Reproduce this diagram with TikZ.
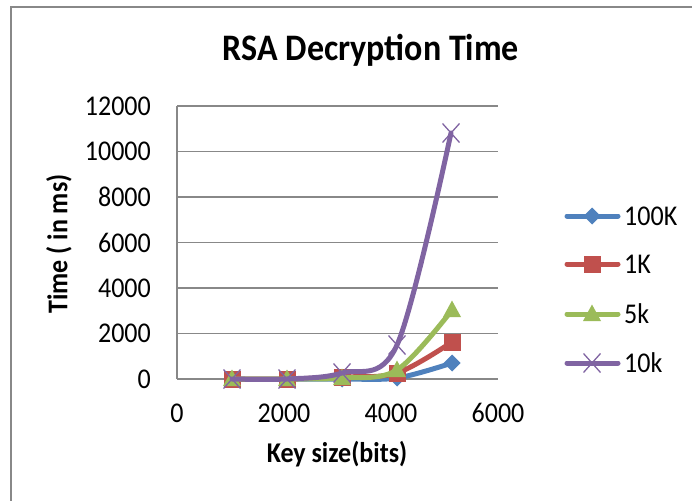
\documentclass[tikz,border=0pt]{standalone}
\usepackage{fontspec}
\setmainfont{Carlito}
\definecolor{sblue}{HTML}{4F81BD}
\definecolor{sred}{HTML}{C0504D}
\definecolor{sgreen}{HTML}{9BBB59}
\definecolor{spurple}{HTML}{8064A2}
\definecolor{gridgray}{HTML}{888888}
\newcommand\stretchtxt[1]{\scalebox{1}[1.1]{#1}}
\newcommand\mkdia[2]{\fill[#2] (#1) +(-8.5,0) -- +(0,-8.5) -- +(8.5,0) -- +(0,8.5) -- cycle;}
\newcommand\mksq[2]{\fill[#2] (#1) +(-8.5,-8.5) rectangle +(8.5,8.5);}
\newcommand\mktri[2]{\fill[#2] (#1) +(0,-9.5) -- +(9,7) -- +(-9,7) -- cycle;}
\newcommand\mkx[2]{\draw[#2,line width=1.3pt] (#1) +(-8.5,-9.5) -- +(8.5,9.5) +(-8.5,9.5) -- +(8.5,-9.5);}
\begin{document}
\begin{tikzpicture}[x=1pt,y=-1pt,
  tick/.style={font=\fontsize{26}{28}\selectfont, inner sep=0pt},
  axtitle/.style={font=\bfseries\fontsize{26}{28}\selectfont, inner sep=0pt},
  grid/.style={draw=gridgray, line width=1.6pt},
  series/.style={line width=5pt, line cap=round, line join=round, smooth, tension=0.55}]
\useasboundingbox (0,0) rectangle (692,500);
% frame
\draw[gridgray, line width=1.6pt] (11,501) -- (11,7) -- (693,7);
% title
\node[font=\bfseries\fontsize{34}{38}\selectfont, inner sep=0pt] (title) at (371,50) {\stretchtxt{RSA Decryption Time}};
% grid
\foreach \i in {0,...,6} {
  \draw[grid] (177,{379-\i*45.5}) -- (498,{379-\i*45.5});
}
\draw[grid] (177,106) -- (177,379);
% y ticks
\foreach \v [count=\i from 0] in {0,2000,4000,6000,8000,10000,12000} {
  \node[tick, anchor=east] (yt\i) at (151,{379-\i*45.5}) {\stretchtxt{\v}};
}
% x ticks
\foreach \v [count=\i from 0] in {0,2000,4000,6000} {
  \node[tick] (xt\i) at ({177+\i*107},413) {\stretchtxt{\v}};
}
\node[axtitle] (xtitle) at (337,454) {\stretchtxt{Key size(bits)}};
\node[axtitle, rotate=90] (ytitle) at (59,244) {\stretchtxt{Time ( in ms)}};
% series 100K
\draw[series, sblue] plot coordinates {(232,379) (287,379) (342,379) (397,378) (452,363)};
\foreach \a/\b in {232/379,287/379,342/379,397/378,452/363} {\mkdia{\a,\b}{sblue}}
% series 1K
\draw[series, sred] plot coordinates {(232,379) (287,379) (342,377) (397,373) (452,342)};
\foreach \a/\b in {232/379,287/379,342/377,397/373,452/342} {\mksq{\a,\b}{sred}}
% series 5k
\draw[series, sgreen] plot coordinates {(232,379) (287,379) (342,378) (397,370) (452,310)};
\foreach \a/\b in {232/379,287/379,342/378,397/370,452/310} {\mktri{\a,\b}{sgreen}}
% series 10k
\draw[series, spurple] plot coordinates {(232,379) (287,379) (342,373) (397,345) (451,133)};
\foreach \a/\b in {232/379,287/379,342/373,397/345,451/133} {\mkx{\a,\b}{spurple}}
% legend
\foreach \c/\t/\y/\m [count=\i] in {sblue/100K/216/mkdia, sred/1K/264/mksq, sgreen/5k/314/mktri, spurple/10k/363/mkx} {
  \coordinate (la\i) at (567,\y);
  \coordinate (lb\i) at (618,\y);
  \coordinate (lm\i) at (592,\y);
  \draw[\c, line width=5pt, line cap=round] (la\i) -- (lb\i);
  \csname\m\endcsname{lm\i}{\c}
  \node[tick, anchor=west] (lt\i) at (624,\y) {\stretchtxt{\t}};
}
\end{tikzpicture}
\end{document}
